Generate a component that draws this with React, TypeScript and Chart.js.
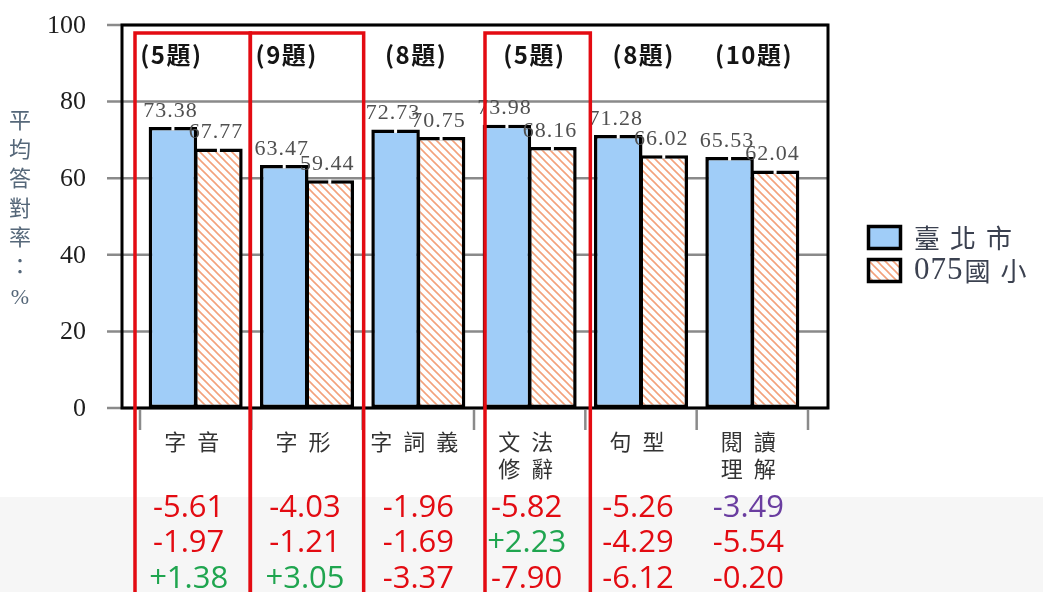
import React, { useEffect, useRef } from 'react';
import { Chart, registerables } from 'chart.js';

Chart.register(...registerables);

// ---------------- data ----------------
const categoryLabels: string[][] = [['字音'], ['字形'], ['字詞義'], ['文法', '修辭'], ['句型'], ['閱讀', '理解']];
const seriesNames = ['臺北市', '075國小'];
const taipeiValues = [73.38, 63.47, 72.73, 73.98, 71.28, 65.53];
const schoolValues = [67.77, 59.44, 70.75, 68.16, 66.02, 62.04];
const questionCounts = ['(5題)', '(9題)', '(8題)', '(5題)', '(8題)', '(10題)'];
const diffRow1 = ['-5.61', '-4.03', '-1.96', '-5.82', '-5.26', '-3.49'];
const diffRow2 = ['-1.97', '-1.21', '-1.69', '+2.23', '-4.29', '-5.54'];
const diffRow3 = ['+1.38', '+3.05', '-3.37', '-7.90', '-6.12', '-0.20'];
const purpleCells = ['0-5'];
const highlightedCategories = [0, 1, 3];
const yTicks = [0, 20, 40, 60, 80, 100];
const yTitle = '平均答對率：%';

// ---------------- layout / style ----------------
const W = 1043;
const H = 592;
const BLUE = '#A0CDF8';
const HATCH = '#F3A27C';
const RED = '#E30B12';
const GREEN = '#1FA54F';
const PURPLE = '#6A3DA0';
const GRID = '#8a8a8a';
const headingShift = [-25, -21, -3, 4, 2, 1];
const diffShift = [-7, -2, 0, -3, -3, -4];
const redBoxEdges: Record<number, [number, number]> = { 0: [-5, -1], 1: [-1, 1], 3: [11, 5] };

function makeHatch(): CanvasPattern | string {
  const s = 8;
  const c = document.createElement('canvas');
  c.width = s;
  c.height = s;
  const g = c.getContext('2d');
  if (!g) return HATCH;
  g.fillStyle = '#ffffff';
  g.fillRect(0, 0, s, s);
  g.strokeStyle = HATCH;
  g.lineWidth = 1.6;
  g.beginPath();
  g.moveTo(-1, -1); g.lineTo(s + 1, s + 1);
  g.moveTo(s - 1, -1); g.lineTo(s + 1, 1);
  g.moveTo(-1, s - 1); g.lineTo(1, s + 1);
  g.stroke();
  const p = g.createPattern(c, 'repeat');
  return p || HATCH;
}

function drawSpaced(ctx: CanvasRenderingContext2D, text: string, x: number, y: number, spacing: number, align: 'center' | 'left' = 'center') {
  const chars = [...text];
  const ws = chars.map((c) => ctx.measureText(c).width);
  const total = ws.reduce((a, b) => a + b, 0) + spacing * (chars.length - 1);
  let cx = align === 'center' ? x - total / 2 : x;
  ctx.textAlign = 'left';
  chars.forEach((c, i) => {
    ctx.fillText(c, cx, y);
    cx += ws[i] + spacing;
  });
}

const decorPlugin = {
  id: 'decor',
  beforeDraw(chart: any) {
    const ctx: CanvasRenderingContext2D = chart.ctx;
    ctx.save();
    ctx.fillStyle = '#ffffff';
    ctx.fillRect(0, 0, W, H);
    ctx.fillStyle = '#f6f6f6';
    ctx.fillRect(0, 497, W, H - 497);
    ctx.restore();
  },
  beforeDatasetsDraw(chart: any) {
    const ctx: CanvasRenderingContext2D = chart.ctx;
    const y = chart.scales.y;
    const x = chart.scales.x;
    const frameL = x.left - 18;
    const frameR = x.right + 20;
    ctx.save();
    ctx.fillStyle = '#ffffff';
    ctx.fillRect(frameL, y.top, frameR - frameL, y.bottom - y.top);
    ctx.strokeStyle = GRID;
    ctx.lineWidth = 2.5;
    yTicks.forEach((t) => {
      const py = y.getPixelForValue(t);
      ctx.beginPath();
      ctx.moveTo(frameL - 15, py);
      ctx.lineTo(frameR, py);
      ctx.stroke();
    });
    ctx.fillStyle = '#1e1e1e';
    ctx.font = "26px 'Liberation Serif', serif";
    ctx.textAlign = 'right';
    ctx.textBaseline = 'middle';
    yTicks.forEach((t) => {
      const py = y.getPixelForValue(t);
      ctx.fillText(String(t), frameL - 36, py + 1);
    });
    // y title
    ctx.fillStyle = '#56687a';
    ctx.font = "22px 'Liberation Serif', 'Noto Sans CJK TC', serif";
    ctx.textAlign = 'center';
    [...yTitle].forEach((ch, i) => {
      ctx.fillText(ch, 20, 122 + i * 29.3);
    });
    ctx.restore();
  },
  afterDatasetsDraw(chart: any) {
    const ctx: CanvasRenderingContext2D = chart.ctx;
    const y = chart.scales.y;
    const x = chart.scales.x;
    const frameL = x.left - 18;
    const frameR = x.right + 20;
    const catW = (x.right - x.left) / categoryLabels.length;
    const boundary = (i: number) => x.getPixelForValue(i) - catW / 2;
    ctx.save();

    // bar notches and value labels
    chart.data.datasets.forEach((ds: any, di: number) => {
      const meta = chart.getDatasetMeta(di);
      meta.data.forEach((bar: any) => {
        ctx.fillStyle = '#ffffff';
        ctx.fillRect(bar.x - 1.5, bar.y - 1, 3, 4.5);
      });
    });
    ctx.fillStyle = '#505050';
    ctx.font = "22px 'Liberation Serif', serif";
    ctx.textBaseline = 'middle';
    chart.data.datasets.forEach((ds: any, di: number) => {
      const meta = chart.getDatasetMeta(di);
      meta.data.forEach((bar: any, i: number) => {
        drawSpaced(ctx, ds.data[i].toFixed(2), bar.x - 3, bar.y - 16, 1);
      });
    });

    // frame
    ctx.strokeStyle = '#000000';
    ctx.lineWidth = 3;
    ctx.beginPath();
    ctx.moveTo(frameL, y.bottom);
    ctx.lineTo(frameL, y.top);
    ctx.lineTo(frameR, y.top);
    ctx.lineTo(frameR, y.bottom);
    ctx.closePath();
    ctx.stroke();

    // category boundary ticks
    ctx.strokeStyle = GRID;
    ctx.lineWidth = 2.5;
    for (let i = 0; i <= categoryLabels.length; i++) {
      const bx = boundary(i);
      ctx.beginPath();
      ctx.moveTo(bx, y.bottom + 2);
      ctx.lineTo(bx, y.bottom + 22);
      ctx.stroke();
    }

    // category labels
    ctx.fillStyle = '#333333';
    ctx.font = "22px 'Noto Sans CJK TC', serif";
    ctx.textBaseline = 'middle';
    categoryLabels.forEach((lines, i) => {
      const cx = x.getPixelForValue(i) - 4;
      lines.forEach((ln, li) => {
        drawSpaced(ctx, ln, cx, 442 + li * 27, 11);
      });
    });

    // question-count headings
    ctx.fillStyle = '#151515';
    ctx.font = "bold 24px 'Noto Sans CJK TC', sans-serif";
    questionCounts.forEach((q, i) => {
      drawSpaced(ctx, q, x.getPixelForValue(i) + headingShift[i], 55, 1.5);
    });

    // difference rows
    ctx.font = "31px 'Open Sans', sans-serif";
    [diffRow1, diffRow2, diffRow3].forEach((row, r) => {
      row.forEach((v, i) => {
        let col = v.startsWith('+') ? GREEN : RED;
        if (purpleCells.includes(`${r}-${i}`)) col = PURPLE;
        ctx.fillStyle = col;
        ctx.textAlign = 'center';
        ctx.fillText(v, x.getPixelForValue(i) + diffShift[i], 508 + r * 35.5);
      });
    });

    // red highlight boxes
    ctx.strokeStyle = RED;
    ctx.lineWidth = 3.5;
    highlightedCategories.forEach((ci) => {
      const [dl, dr] = redBoxEdges[ci] || [0, 0];
      const l = boundary(ci) + dl;
      const r = boundary(ci + 1) + dr;
      ctx.beginPath();
      ctx.moveTo(l, H + 5);
      ctx.lineTo(l, 33);
      ctx.lineTo(r, 33);
      ctx.lineTo(r, H + 5);
      ctx.stroke();
    });

    // legend
    chart.data.datasets.forEach((ds: any, di: number) => {
      const ly = 225 + di * 33;
      ctx.fillStyle = ds.backgroundColor;
      ctx.fillRect(867, ly, 35, 25);
      ctx.strokeStyle = '#000000';
      ctx.lineWidth = 3.5;
      ctx.strokeRect(868.5, ly + 1.5, 32, 22);
      ctx.fillStyle = '#3b4150';
      ctx.textBaseline = 'middle';
      const name: string = ds.label;
      const m = name.match(/^([0-9]*)(.*)$/);
      let tx = 914;
      if (m && m[1]) {
        ctx.font = "31px 'Liberation Serif', serif";
        drawSpaced(ctx, m[1], tx, ly + 13, 1, 'left');
        tx += ctx.measureText(m[1]).width + 4;
      }
      ctx.font = "26px 'Noto Sans CJK TC', serif";
      drawSpaced(ctx, m ? m[2] : name, tx, ly + 13, 10, 'left');
    });

    ctx.restore();
  },
};

export default function App() {
  const ref = useRef<HTMLCanvasElement | null>(null);
  useEffect(() => {
    if (!ref.current) return;
    const hatch = makeHatch();
    const chart = new Chart(ref.current, {
      type: 'bar',
      data: {
        labels: categoryLabels.map((l) => l.join('')),
        datasets: [
          {
            label: seriesNames[0],
            data: taipeiValues,
            backgroundColor: BLUE,
            borderColor: '#000000',
            borderWidth: 3.5,
            borderSkipped: false,
            barPercentage: 1.066,
            categoryPercentage: 0.8175,
          },
          {
            label: seriesNames[1],
            data: schoolValues,
            backgroundColor: hatch as any,
            borderColor: '#000000',
            borderWidth: 3.5,
            borderSkipped: false,
            barPercentage: 1.066,
            categoryPercentage: 0.8175,
          },
        ],
      },
      options: {
        animation: false,
        responsive: false,
        devicePixelRatio: 1,
        layout: { padding: { left: 140, right: W - 808, top: 25, bottom: H - 408 } },
        scales: {
          x: { display: false, offset: true },
          y: { display: false, min: 0, max: 100 },
        },
        plugins: { legend: { display: false }, tooltip: { enabled: false } },
      },
      plugins: [decorPlugin],
    });
    return () => chart.destroy();
  }, []);
  return (
    <div style={{ position: 'fixed', left: 0, top: 0, width: W, height: H, background: '#fff' }}>
      <canvas ref={ref} width={W} height={H} style={{ display: 'block', width: W, height: H }} />
    </div>
  );
}
